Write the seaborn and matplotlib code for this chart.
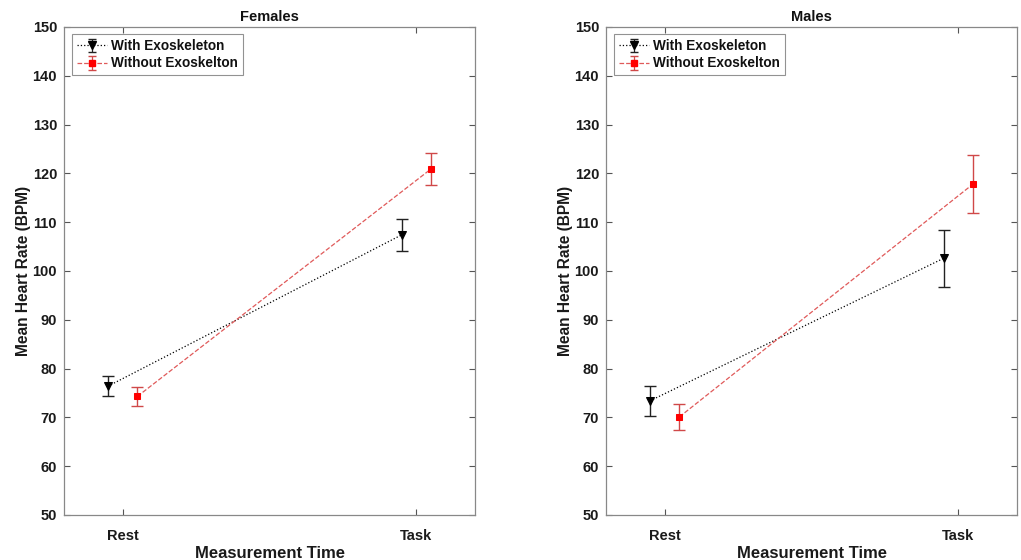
import matplotlib
matplotlib.use("Agg")
import matplotlib.pyplot as plt
import seaborn as sns
import numpy as np
import pandas as pd

sns.set_style("white")
plt.rcParams['font.family'] = ['Liberation Sans', 'DejaVu Sans']
plt.rcParams['font.weight'] = 'bold'

categories = ["Rest", "Task"]
panels = ["Females", "Males"]
series = ["With Exoskeleton", "Without Exoskelton"]

females_with = [76.4, 107.4]
females_with_err = [2.1, 3.2]
females_without = [74.3, 120.9]
females_without_err = [2.0, 3.2]

males_with = [73.4, 102.6]
males_with_err = [3.1, 5.8]
males_without = [70.1, 117.8]
males_without_err = [2.6, 5.9]

yticks = [50, 60, 70, 80, 90, 100, 110, 120, 130, 140, 150]

data = {
    "Females": [(females_with, females_with_err), (females_without, females_without_err)],
    "Males": [(males_with, males_with_err), (males_without, males_without_err)],
}

offsets = [-0.05, 0.05]
styles = [
    dict(line="black", ls=":", marker="v", mfc="black", ms=6, ecolor="#222222"),
    dict(line="#e05a5a", ls="--", marker="s", mfc="#ff0000", ms=4.5, ecolor="#d04848"),
]

fig = plt.figure(figsize=(10.21, 5.6), dpi=100)
axes_pos = [
    [64 / 1021, 45 / 560, 411 / 1021, 488 / 560],
    [606 / 1021, 45 / 560, 411 / 1021, 488 / 560],
]

for p, panel in enumerate(panels):
    ax = fig.add_axes(axes_pos[p])
    handles = []
    for s, (vals, errs) in enumerate(data[panel]):
        st = styles[s]
        xs = np.arange(1, len(categories) + 1) + offsets[s]
        df = pd.DataFrame({"x": xs, "y": vals})
        sns.lineplot(data=df, x="x", y="y", ax=ax, color=st["line"], linestyle=st["ls"],
                     linewidth=0.9, marker=st["marker"], markersize=st["ms"],
                     markerfacecolor=st["mfc"], markeredgecolor=st["mfc"], legend=False,
                     zorder=3)
        ax.errorbar(xs, vals, yerr=errs, fmt="none", ecolor=st["ecolor"], elinewidth=1.0,
                    capsize=4, capthick=1.0, zorder=2)
        h = ax.errorbar([np.nan], [np.nan], yerr=[1], color=st["line"], linestyle=st["ls"],
                        linewidth=0.9, marker=st["marker"], markersize=st["ms"],
                        markerfacecolor=st["mfc"], markeredgecolor=st["mfc"],
                        ecolor=st["ecolor"], capsize=3, label=series[s])
        handles.append(h)
    ax.set_xlim(0.8, 2.2)
    ax.set_ylim(50, 150)
    ax.set_xticks([1, 2])
    ax.set_xticklabels(categories)
    ax.set_yticks(yticks)
    ax.tick_params(direction="in", length=4, width=0.8, colors="#555555",
                   labelcolor="#1a1a1a", labelsize=10.5, top=True, right=True,
                   bottom=True, left=True, pad=5)
    ax.tick_params(axis="x", pad=10)
    for lab in ax.get_xticklabels() + ax.get_yticklabels():
        lab.set_fontweight("bold")
    for sp in ax.spines.values():
        sp.set_color("#888888")
        sp.set_linewidth(0.9)
    ax.set_title(panel, fontsize=10.5, fontweight="bold", color="#111111", pad=4)
    ax.set_xlabel("Measurement Time", fontsize=12, fontweight="bold", color="#1a1a1a", labelpad=2)
    ax.set_ylabel("Mean Heart Rate (BPM)", fontsize=11.2, fontweight="bold", color="#1a1a1a", labelpad=1)
    leg = ax.legend(handles=handles, labels=series, loc="upper left", bbox_to_anchor=(0.02, 0.985),
                    fontsize=9.8, frameon=True, fancybox=False, handlelength=2.2,
                    borderpad=0.35, labelspacing=0.25, handletextpad=0.3, borderaxespad=0)
    leg.get_frame().set_edgecolor("#777777")
    leg.get_frame().set_linewidth(0.8)
    for t in leg.get_texts():
        t.set_fontweight("bold")
        t.set_color("#111111")

fig.savefig("out.png", dpi=100, facecolor="white")
